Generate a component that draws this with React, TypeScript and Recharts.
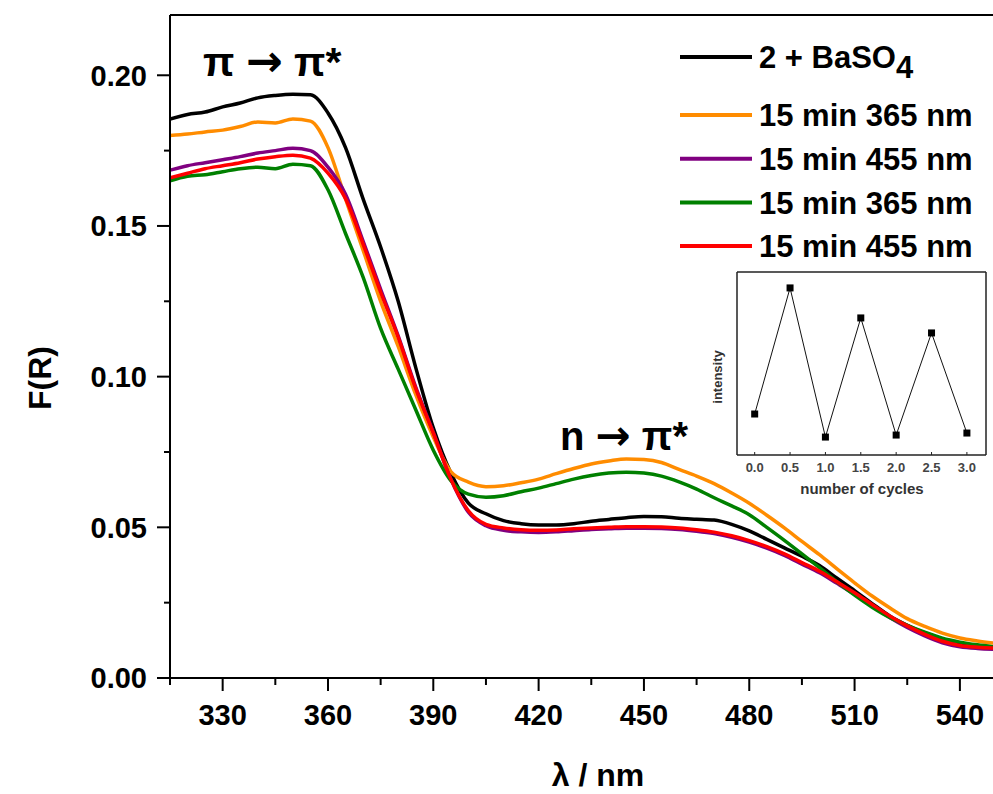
import { LineChart, Line, XAxis, YAxis, ReferenceLine } from "recharts";

const FONT = "'Liberation Sans', Arial, Helvetica, sans-serif";

// wavelength grid, nm
const WAVELENGTHS = [
  315, 320, 325, 330, 335, 340, 345, 350, 355, 360,
  365, 370, 375, 380, 385, 390, 395, 400, 405, 410,
  415, 420, 425, 430, 435, 440, 445, 450, 455, 460,
  465, 470, 475, 480, 485, 490, 495, 500, 505, 510,
  515, 520, 525, 530, 535, 540, 545, 550,
];

// F(R) values
const BASO4 = [
  0.1855, 0.187, 0.1878, 0.1895, 0.1908, 0.1925, 0.1933, 0.1937, 0.1935, 0.1875,
  0.176, 0.159, 0.143, 0.125, 0.103, 0.083, 0.068, 0.058, 0.0545, 0.0522,
  0.0512, 0.0508, 0.0508, 0.0512, 0.052, 0.0526, 0.0532, 0.0536, 0.0535, 0.053,
  0.0527, 0.0524, 0.051, 0.0488, 0.046, 0.0432, 0.0404, 0.0373, 0.0331, 0.029,
  0.0247, 0.0206, 0.0175, 0.0149, 0.0128, 0.0115, 0.0107, 0.0102,
];
const UV_1 = [
  0.18, 0.1805, 0.1812, 0.1818, 0.183, 0.1845, 0.1842, 0.1855, 0.1848, 0.176,
  0.159, 0.142, 0.125, 0.11, 0.094, 0.08, 0.0685, 0.065, 0.0635, 0.0638,
  0.0648, 0.066, 0.0678, 0.0695, 0.071, 0.072, 0.0727, 0.0725, 0.0715, 0.0692,
  0.067, 0.0645, 0.0614, 0.058, 0.054, 0.0498, 0.0453, 0.0409, 0.0362, 0.0316,
  0.0272, 0.0233, 0.0197, 0.0171, 0.0149, 0.0133, 0.0123, 0.0115,
];
const VIS_1 = [
  0.1685, 0.17, 0.171, 0.172, 0.173, 0.1742, 0.175, 0.1758, 0.175, 0.1695,
  0.1605, 0.145, 0.129, 0.1135, 0.0965, 0.0815, 0.066, 0.055, 0.0505, 0.049,
  0.0485, 0.0483, 0.0485, 0.0489, 0.0493, 0.0495, 0.0497, 0.0497, 0.0496, 0.0493,
  0.0487, 0.0479, 0.0467, 0.0451, 0.0431, 0.0407, 0.0378, 0.0349, 0.0314, 0.0278,
  0.0239, 0.0201, 0.0168, 0.014, 0.0117, 0.0104, 0.0098, 0.0095,
];
const UV_2 = [
  0.165, 0.1665, 0.167, 0.168, 0.169, 0.1695, 0.169, 0.1705, 0.17, 0.162,
  0.1475, 0.133, 0.116, 0.1025, 0.089, 0.0756, 0.0655, 0.061, 0.06, 0.0605,
  0.0618, 0.063, 0.0645, 0.066, 0.0672, 0.068, 0.0683, 0.068, 0.067, 0.0651,
  0.0627, 0.0598, 0.0571, 0.0542, 0.05, 0.0457, 0.0412, 0.0366, 0.0319, 0.0275,
  0.0235, 0.0201, 0.0175, 0.0152, 0.0132, 0.0119, 0.011, 0.0103,
];
const VIS_2 = [
  0.166, 0.1675, 0.169, 0.17, 0.171, 0.1722, 0.173, 0.1735, 0.1725, 0.1675,
  0.159, 0.144, 0.128, 0.113, 0.096, 0.0813, 0.066, 0.0555, 0.051, 0.0498,
  0.0492, 0.049, 0.0491, 0.0495, 0.0498, 0.05, 0.0502, 0.0502, 0.0501, 0.0498,
  0.0492, 0.0484, 0.0472, 0.0456, 0.0436, 0.0412, 0.0383, 0.0354, 0.0319, 0.0283,
  0.0244, 0.0206, 0.0173, 0.0145, 0.0122, 0.0108, 0.0102, 0.0099,
];

const SERIES = [
  { key: "baso4", name: "2 + BaSO", sub: "4", color: "#000000", values: BASO4 },
  { key: "uv1", name: "15 min 365 nm", sub: "", color: "#FF8C00", values: UV_1 },
  { key: "vis1", name: "15 min 455 nm", sub: "", color: "#800080", values: VIS_1 },
  { key: "uv2", name: "15 min 365 nm", sub: "", color: "#008000", values: UV_2 },
  { key: "vis2", name: "15 min 455 nm", sub: "", color: "#FF0000", values: VIS_2 },
];

const X_TICKS = [315, 330, 345, 360, 375, 390, 405, 420, 435, 450, 465, 480, 495, 510, 525, 540];
const X_LABELS = [330, 360, 390, 420, 450, 480, 510, 540];
const Y_TICKS = [0, 0.025, 0.05, 0.075, 0.1, 0.125, 0.15, 0.175, 0.2];
const Y_LABELS = [0, 0.05, 0.1, 0.15, 0.2];

// inset: switching cycles
const CYCLES = [0, 0.5, 1, 1.5, 2, 2.5, 3];
const INTENSITY = [0.224, 0.913, 0.098, 0.749, 0.109, 0.667, 0.12];
const CYCLE_LABELS = ["0.0", "0.5", "1.0", "1.5", "2.0", "2.5", "3.0"];

const rows = WAVELENGTHS.map((wl, i) => {
  const row: Record<string, number> = { wl };
  SERIES.forEach((s) => (row[s.key] = s.values[i]));
  return row;
});

const insetRows = CYCLES.map((c, i) => ({ c, v: INTENSITY[i] }));

function XTick(props: any) {
  const { x, y, payload } = props;
  const major = X_LABELS.includes(payload.value);
  return (
    <g>
      <line x1={x} y1={y} x2={x} y2={y + (major ? 13 : 7)} stroke="#000" strokeWidth={2} />
      {major && (
        <text x={x} y={y + 47} textAnchor="middle" fontSize={29} fontWeight="bold" fontFamily={FONT} fill="#000">
          {payload.value}
        </text>
      )}
    </g>
  );
}

function YTick(props: any) {
  const { x, y, payload } = props;
  const major = Y_LABELS.some((v) => Math.abs(v - payload.value) < 1e-9);
  return (
    <g>
      <line x1={x} y1={y} x2={x - (major ? 13 : 6)} y2={y} stroke="#000" strokeWidth={2} />
      {major && (
        <text x={x - 23} y={y} dy="0.36em" textAnchor="end" fontSize={29} fontWeight="bold" fontFamily={FONT} fill="#000">
          {payload.value.toFixed(2)}
        </text>
      )}
    </g>
  );
}

function InsetTick(props: any) {
  const { x, y, index } = props;
  return (
    <g>
      <line x1={x} y1={y} x2={x} y2={y - 3} stroke="#222" strokeWidth={1} />
      <text x={x} y={y + 17} textAnchor="middle" fontSize={13} fontWeight="bold" fontFamily={FONT} fill="#444">
        {CYCLE_LABELS[index]}
      </text>
    </g>
  );
}

function SquareDot(props: any) {
  const { cx, cy, index } = props;
  return <rect key={`sq-${index}`} x={cx - 3.5} y={cy - 3.5} width={7} height={7} fill="#000" />;
}

export default function App() {
  return (
    <div style={{ position: "absolute", left: 0, top: 0, width: 993, height: 794, overflow: "hidden", background: "#fff" }}>
      <LineChart width={995} height={794} data={rows} margin={{ top: 15, right: 0, bottom: 0, left: 0 }}>
        <XAxis
          dataKey="wl"
          type="number"
          domain={[315, 550]}
          allowDataOverflow
          ticks={X_TICKS}
          interval={0}
          tick={<XTick />}
          tickLine={false}
          tickSize={0}
          tickMargin={0}
          height={116}
          axisLine={{ stroke: "#000", strokeWidth: 2 }}
        />
        <YAxis
          type="number"
          domain={[0, 0.22]}
          allowDataOverflow
          ticks={Y_TICKS}
          interval={0}
          tick={<YTick />}
          tickLine={false}
          tickSize={0}
          tickMargin={0}
          width={170}
          axisLine={{ stroke: "#000", strokeWidth: 2 }}
        />
        <ReferenceLine y={0.22} stroke="#000" strokeWidth={2} />
        {SERIES.map((s) => (
          <Line
            key={s.key}
            dataKey={s.key}
            stroke={s.color}
            strokeWidth={3.5}
            dot={false}
            type="monotone"
            isAnimationActive={false}
          />
        ))}
      </LineChart>

      <div style={{ position: "absolute", left: 700, top: 262 }}>
        <LineChart width={300} height={238} data={insetRows} margin={{ top: 10, right: 14, bottom: 0, left: 0 }}>
          <XAxis
            dataKey="c"
            type="number"
            domain={[-0.25, 3.27]}
            allowDataOverflow
            ticks={CYCLES}
            interval={0}
            tick={<InsetTick />}
            tickLine={false}
            tickSize={0}
            tickMargin={0}
            height={45}
            axisLine={{ stroke: "#222", strokeWidth: 1.5 }}
          />
          <YAxis type="number" domain={[0, 1]} allowDataOverflow tick={false} tickLine={false} width={37} axisLine={{ stroke: "#222", strokeWidth: 1.5 }} />
          <ReferenceLine y={1} stroke="#222" strokeWidth={1.5} />
          <ReferenceLine x={3.27} stroke="#222" strokeWidth={1.5} />
          <Line dataKey="v" stroke="#111" strokeWidth={1} dot={<SquareDot />} type="linear" isAnimationActive={false} />
        </LineChart>
      </div>

      <svg width={993} height={794} style={{ position: "absolute", left: 0, top: 0, pointerEvents: "none" }} fontFamily={FONT} fontWeight="bold">
        <text x={40} y={378} transform="rotate(-90 40 378)" textAnchor="middle" dy="0.35em" fontSize={32}>F(R)</text>
        <text x={598} y={786} textAnchor="middle" fontSize={32}>λ / nm</text>
        <text x={203} y={76} fontSize={41}>
          π <tspan fontFamily="'DejaVu Sans'" fontSize={44}>→</tspan> π*
        </text>
        <text x={560} y={450} fontSize={40}>
          n <tspan fontFamily="'DejaVu Sans'" fontSize={42}>→</tspan> π*
        </text>
        <text x={717} y={377} transform="rotate(-90 717 377)" textAnchor="middle" dy="0.35em" fontSize={13} fill="#333">intensity</text>
        <text x={862} y={494} textAnchor="middle" fontSize={15} fill="#333">number of cycles</text>
        {SERIES.map((s, i) => {
          const y = i === 0 ? 57 : 115 + (i - 1) * 43.7;
          return (
            <g key={s.key}>
              <line x1={680} y1={y} x2={752} y2={y} stroke={s.color} strokeWidth={4} />
              <text x={759} y={y} dy="0.36em" fontSize={31} fill="#000">
                {s.name}
                {s.sub && <tspan dy={10} fontSize={31}>{s.sub}</tspan>}
              </text>
            </g>
          );
        })}
      </svg>
    </div>
  );
}
